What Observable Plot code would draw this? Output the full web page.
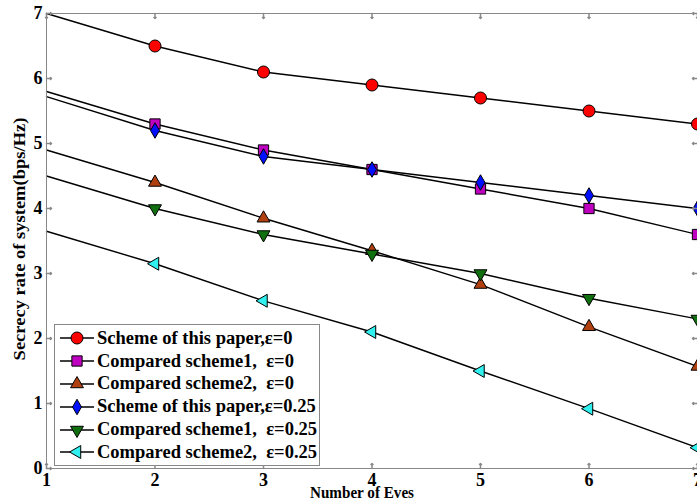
<!DOCTYPE html>
<html>
<head>
<meta charset="utf-8">
<script src="https://cdn.jsdelivr.net/npm/d3@7"></script>
<script src="https://cdn.jsdelivr.net/npm/@observablehq/plot@0.6"></script>
<style>
  html, body { margin: 0; padding: 0; background: #fff; }
  #wrap { position: relative; width: 697px; height: 502px; overflow: hidden; }
  #legend {
    position: absolute; left: 54px; top: 324px; width: 266px; height: 142px;
    box-sizing: border-box; border: 1px solid #888; background: #fff;
    font-family: "Liberation Serif", "DejaVu Serif", serif; font-weight: bold; font-size: 18.5px;
    padding-top: 2px; white-space: pre;
  }
  .row { display: flex; align-items: center; height: 22.8px; }
  .row svg { display: block; margin-left: 4px; margin-right: 2px; }
</style>
</head>
<body>
<div id="wrap"><div id="chart"></div><div id="legend"></div></div>
<script>
const xs = [1, 2, 3, 4, 5, 6, 7];
const xTicks = [1, 2, 3, 4, 5, 6, 7];
const yTicks = [0, 1, 2, 3, 4, 5, 6, 7];
const xTitle = "Number of Eves";
const yTitle = "Secrecy rate of system(bps/Hz)";

const names = [
  "Scheme of this paper,\u03b5=0",
  "Compared scheme1,  \u03b5=0",
  "Compared scheme2,  \u03b5=0",
  "Scheme of this paper,\u03b5=0.25",
  "Compared scheme1,  \u03b5=0.25",
  "Compared scheme2,  \u03b5=0.25"
];
const ownEps0      = [7.0, 6.5, 6.1, 5.9, 5.7, 5.5, 5.3];
const comp1Eps0    = [5.8, 5.3, 4.9, 4.6, 4.3, 4.0, 3.6];
const comp2Eps0    = [4.9, 4.4, 3.85, 3.35, 2.83, 2.18, 1.57];
const ownEps025    = [5.72, 5.2, 4.8, 4.6, 4.4, 4.2, 4.0];
const comp1Eps025  = [4.5, 4.0, 3.6, 3.3, 3.0, 2.62, 2.3];
const comp2Eps025  = [3.65, 3.15, 2.58, 2.1, 1.5, 0.92, 0.32];

const seriesValues = [ownEps0, comp1Eps0, comp2Eps0, ownEps025, comp1Eps025, comp2Eps025];
const colors  = ["#ff0000", "#c000c0", "#b04010", "#0010ff", "#107010", "#30f0f0"];
const symbols = ["circle", "square", "triangle", "diamond", "triangle", "triangle"];
const rotates = [0, 0, 0, 0, 180, 270];
const radii   = [6, 5.8, 4.8, 4.7, 4.8, 4.8];

const rows = [];
seriesValues.forEach((vals, i) => vals.forEach((v, j) => rows.push({x: xs[j], y: v, s: i})));

const font = "Liberation Serif";
const gray = "#888";

const marks = [
  Plot.line(rows, {x: "x", y: "y", z: "s", stroke: "black", strokeWidth: 1.4}),
  ...seriesValues.map((vals, i) => Plot.dot(rows.filter(d => d.s === i && d.x >= 2), {
    x: "x", y: "y", symbol: symbols[i], r: radii[i], rotate: rotates[i],
    fill: colors[i], stroke: "black", strokeWidth: 1
  })),
  Plot.frame({stroke: gray}),
  Plot.vector(xTicks, {x: d => d, frameAnchor: "bottom", length: 5, anchor: "start", rotate: 0, stroke: gray}),
  Plot.vector(xTicks, {x: d => d, frameAnchor: "top", length: 5, anchor: "start", rotate: 180, stroke: gray}),
  Plot.vector(yTicks, {y: d => d, frameAnchor: "left", length: 5, anchor: "start", rotate: 90, stroke: gray}),
  Plot.vector(yTicks, {y: d => d, frameAnchor: "right", length: 5, anchor: "start", rotate: 270, stroke: gray}),
  Plot.axisX({ticks: xTicks, tickSize: 0, tickPadding: 5, fontSize: 18, fontWeight: "bold",
    tickFormat: d => String(d), label: null}),
  Plot.axisY({ticks: yTicks, tickSize: 0, tickPadding: 4, fontSize: 18, fontWeight: "bold",
    tickFormat: d => String(d), label: null}),
  Plot.text([xTitle], {frameAnchor: "bottom", text: d => d, dx: -10, dy: 24,
    textAnchor: "middle", lineAnchor: "middle", fontSize: 17.5, fontWeight: "bold"}),
  Plot.text([yTitle], {frameAnchor: "left", text: d => d, dx: -27, dy: -2,
    rotate: -90, textAnchor: "middle", lineAnchor: "middle", fontSize: 16, fontWeight: "bold"})
];

const chart = Plot.plot({
  width: 697, height: 502,
  marginLeft: 46, marginRight: 0, marginTop: 13, marginBottom: 34,
  x: {domain: [1, 7]},
  y: {domain: [0, 7]},
  style: {fontFamily: font, fontWeight: "bold", fontSize: "15px", color: "black", background: "white", overflow: "visible"},
  marks
});
document.getElementById("chart").appendChild(chart);

// Condense the axis titles horizontally to the reference's look
const titleLengths = new Map([[xTitle, 104], [yTitle, 243]]);
d3.select(chart).selectAll("text").each(function() {
  const len = titleLengths.get(this.textContent);
  if (!len) return;
  const natural = this.getComputedTextLength();
  if (!(natural > 0)) return;
  const t = this.getAttribute("transform") || "";
  this.setAttribute("transform", `${t} scale(${len / natural},1)`);
});

// Legend
const legend = d3.select("#legend");
names.forEach((name, i) => {
  const row = legend.append("div").attr("class", "row");
  const svg = row.append("svg").attr("width", 36).attr("height", 20);
  svg.append("line").attr("x1", 1).attr("x2", 35).attr("y1", 10).attr("y2", 10)
    .attr("stroke", "black").attr("stroke-width", 1.4);
  const sym = {circle: d3.symbolCircle, square: d3.symbolSquare, triangle: d3.symbolTriangle, diamond: d3.symbolDiamond}[symbols[i]];
  svg.append("path").attr("d", d3.symbol(sym, Math.PI * radii[i] * radii[i])())
    .attr("transform", `translate(18,10) rotate(${rotates[i]})`)
    .attr("fill", colors[i]).attr("stroke", "black").attr("stroke-width", 1);
  row.append("span").text(name);
});
</script>
</body>
</html>
